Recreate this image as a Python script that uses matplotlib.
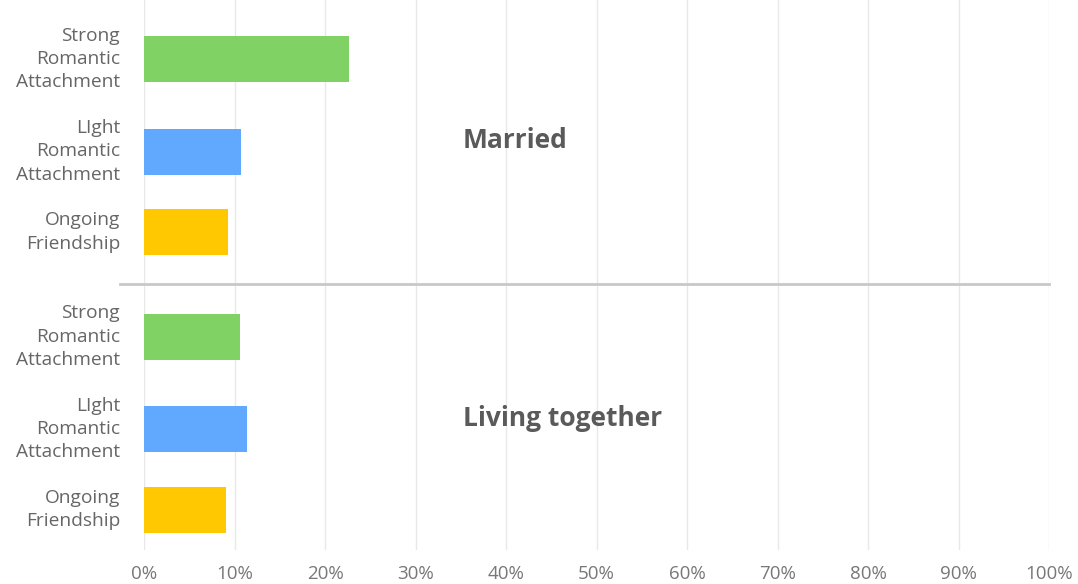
import matplotlib.pyplot as plt
import matplotlib.lines as mlines

plt.rcParams['font.family'] = ['Open Sans', 'DejaVu Sans']

groups = ['Married', 'Living together']
categories = ['Strong\nRomantic\nAttachment', 'LIght\nRomantic\nAttachment', 'Ongoing\nFriendship']
married = [22.7, 10.7, 9.3]
living = [10.6, 11.4, 9.1]
ticks = list(range(0, 101, 10))
tick_labels = ['%d%%' % t for t in ticks]
colors = ['#80d264', '#61a9ff', '#ffc800']

# layout (pixel-ish units, top to bottom)
row_pos = [59, 151.5, 232]
group_shift = 277.5
bar_h = 46

fig = plt.figure(figsize=(10.78, 5.84), dpi=100)
ax = fig.add_axes([144 / 1078, 34 / 584, 905 / 1078, 550 / 584])
ax.set_xlim(0, 100)
ax.set_ylim(550, 0)

for gi, (name, vals) in enumerate(zip(groups, [married, living])):
    ys = [p + gi * group_shift for p in row_pos]
    ax.barh(ys, vals, height=bar_h, color=colors, zorder=3)
    for y, lab in zip(ys, categories):
        ax.text(-2.65, y, lab, ha='right', va='center', fontsize=13.8,
                color='#666666', linespacing=1.38)
    ax.text(35.2, row_pos[1] - 11 + gi * group_shift, name, ha='left', va='center',
            fontsize=19, fontweight='bold', color='#5a5a5a')

ax.set_xticks(ticks)
ax.set_xticklabels(tick_labels, fontsize=13.5, color='#777777')
ax.set_yticks([])
ax.tick_params(axis='x', length=0, pad=11)
ax.grid(axis='x', color='#e8e8e8', linewidth=1, zorder=0)
for s in ax.spines.values():
    s.set_visible(False)

# separator between groups
sep = mlines.Line2D([120 / 1078, 1049 / 1078], [1 - 284 / 584, 1 - 284 / 584],
                    color='#c8c8c8', linewidth=2, transform=fig.transFigure)
fig.add_artist(sep)

fig.savefig('out.png', dpi=100)
